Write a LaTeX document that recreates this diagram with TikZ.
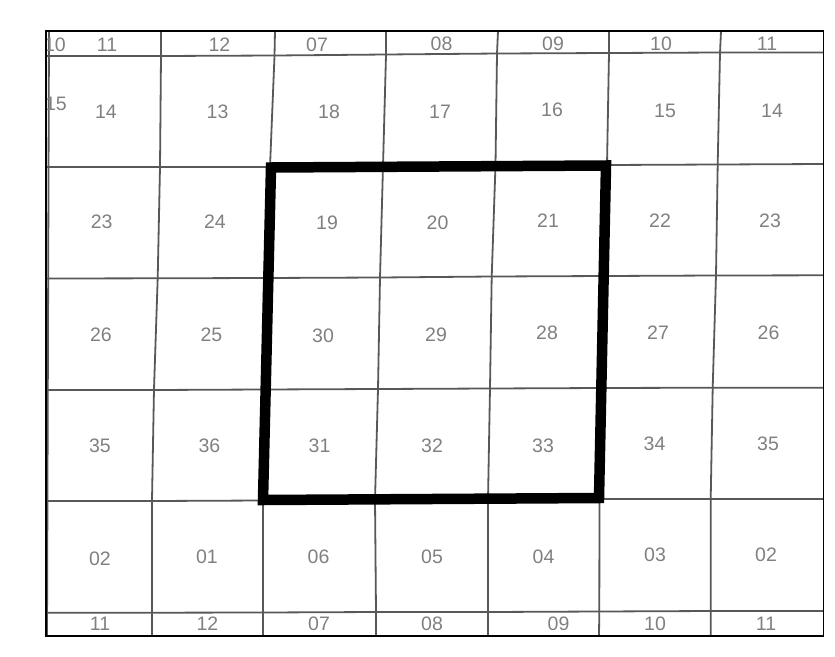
\documentclass[tikz,border=0pt]{standalone}
\usepackage{fontspec}
\setmainfont{Liberation Sans}
\definecolor{txt}{HTML}{808080}
\definecolor{gridc}{HTML}{585858}
\begin{document}
\begin{tikzpicture}[x=1pt,y=-1pt,
 lbl/.style={text=txt,font=\fontsize{19.5}{19.5}\selectfont,inner sep=0pt,anchor=center},
 gridline/.style={draw=gridc,line width=1.8pt},
 framebox/.style={draw=black,line width=1.8pt},
 focus/.style={draw=black,line width=10.5pt,line join=miter}]
\useasboundingbox (0,0) rectangle (835,656);
% horizontal grid lines
\draw[gridline] (46,56) -- (161,56) -- (275,55.5) -- (386,54.5) -- (498,53.5) -- (609,53) -- (721,52.5) -- (823,52.5);
\draw[gridline] (46,167) -- (160,167) -- (270,167) -- (383,166) -- (495,165.5) -- (607,165) -- (718,164.5) -- (823,164);
\draw[gridline] (46,278.5) -- (158,278.3) -- (264,278) -- (380,277.5) -- (492,276.5) -- (605,276) -- (716,275.5) -- (823,275.3);
\draw[gridline] (46,390) -- (154,390) -- (263,389.5) -- (378,389) -- (490,388.5) -- (602,388) -- (713,387.7) -- (823,387.7);
\draw[gridline] (46,501) -- (152,501) -- (263,500.5) -- (375,500) -- (488,499.5) -- (599.5,499) -- (711,499) -- (823,499);
\draw[gridline] (46,612.7) -- (152,612.7) -- (263,612.5) -- (376,612) -- (488,612) -- (599,611.5) -- (711,611) -- (823,611);
% vertical grid lines
\draw[gridline] (49,31) -- (47,636);
\draw[gridline] (161,31) -- (161,56) -- (160,167) -- (157.7,278) -- (154,389) -- (152,500) -- (152,612) -- (152,636);
\draw[gridline] (275,31) -- (274.5,56) -- (270,167) -- (264,278) -- (263,389) -- (263,500) -- (263,612) -- (263,636);
\draw[gridline] (386,31) -- (386,55) -- (383,166) -- (380,278) -- (378,389) -- (375,500) -- (376,612) -- (376,636);
\draw[gridline] (498,31) -- (497,54) -- (495.5,165) -- (491.7,277) -- (490,388) -- (488,500) -- (488,612) -- (488,636);
\draw[gridline] (609,31) -- (609,53) -- (607,165) -- (605,276) -- (602,388) -- (599.5,499) -- (599.3,611) -- (599,636);
\draw[gridline] (721,31) -- (720,53) -- (717.7,164) -- (716,275) -- (712.7,388) -- (710.7,499) -- (710.7,611) -- (710.7,636);
% labels
\begin{scope}
\clip (47.5,31) rectangle (823,636);
\node[lbl] (t1) at (55,44.5) {10};
\node[lbl] (t2) at (107,44.5) {11};
\node[lbl] (t3) at (219.5,44.5) {12};
\node[lbl] (t4) at (317,45) {07};
\node[lbl] (t5) at (441.5,43.5) {08};
\node[lbl] (t6) at (553,43.5) {09};
\node[lbl] (t7) at (661,44) {10};
\node[lbl] (t8) at (767,44) {11};
\node[lbl] (a0) at (56,104) {15};
\node[lbl] (a1) at (106,112) {14};
\node[lbl] (a2) at (217.5,112) {13};
\node[lbl] (a3) at (329,112) {18};
\node[lbl] (a4) at (440,112) {17};
\node[lbl] (a5) at (552,110) {16};
\node[lbl] (a6) at (665,111) {15};
\node[lbl] (a7) at (772,111) {14};
\node[lbl] (b1) at (101.7,222) {23};
\node[lbl] (b2) at (215,222) {24};
\node[lbl] (b3) at (327,223) {19};
\node[lbl] (b4) at (437.5,223) {20};
\node[lbl] (b5) at (548,221) {21};
\node[lbl] (b6) at (660,220.5) {22};
\node[lbl] (b7) at (770,220.5) {23};
\node[lbl] (c1) at (101,335) {26};
\node[lbl] (c2) at (211.5,335) {25};
\node[lbl] (c3) at (323,335.5) {30};
\node[lbl] (c4) at (436,335) {29};
\node[lbl] (c5) at (547,333) {28};
\node[lbl] (c6) at (658,332.5) {27};
\node[lbl] (c7) at (768.5,332.5) {26};
\node[lbl] (d1) at (100,446) {35};
\node[lbl] (d2) at (209.5,446) {36};
\node[lbl] (d3) at (319.5,445.5) {31};
\node[lbl] (d4) at (432,445.5) {32};
\node[lbl] (d5) at (543,445.5) {33};
\node[lbl] (d6) at (654.5,444) {34};
\node[lbl] (d7) at (768,444) {35};
\node[lbl] (e1) at (100,559) {02};
\node[lbl] (e2) at (207,557) {01};
\node[lbl] (e3) at (318.5,557) {06};
\node[lbl] (e4) at (432,557) {05};
\node[lbl] (e5) at (543.5,557) {04};
\node[lbl] (e6) at (655,555) {03};
\node[lbl] (e7) at (766,555) {02};
\node[lbl] (f1) at (100,624) {11};
\node[lbl] (f2) at (207.5,624) {12};
\node[lbl] (f3) at (319,624) {07};
\node[lbl] (f4) at (432,624) {08};
\node[lbl] (f5) at (558.5,624) {09};
\node[lbl] (f6) at (655,624) {10};
\node[lbl] (f7) at (766,624) {11};
\end{scope}
% outer frame
\draw[framebox] (46,31) rectangle (823.5,636);
% highlighted 3x3 block
\draw[focus] (271,167.5) -- (606,165.5) -- (599,498) -- (263,500) -- cycle;
\end{tikzpicture}
\end{document}
